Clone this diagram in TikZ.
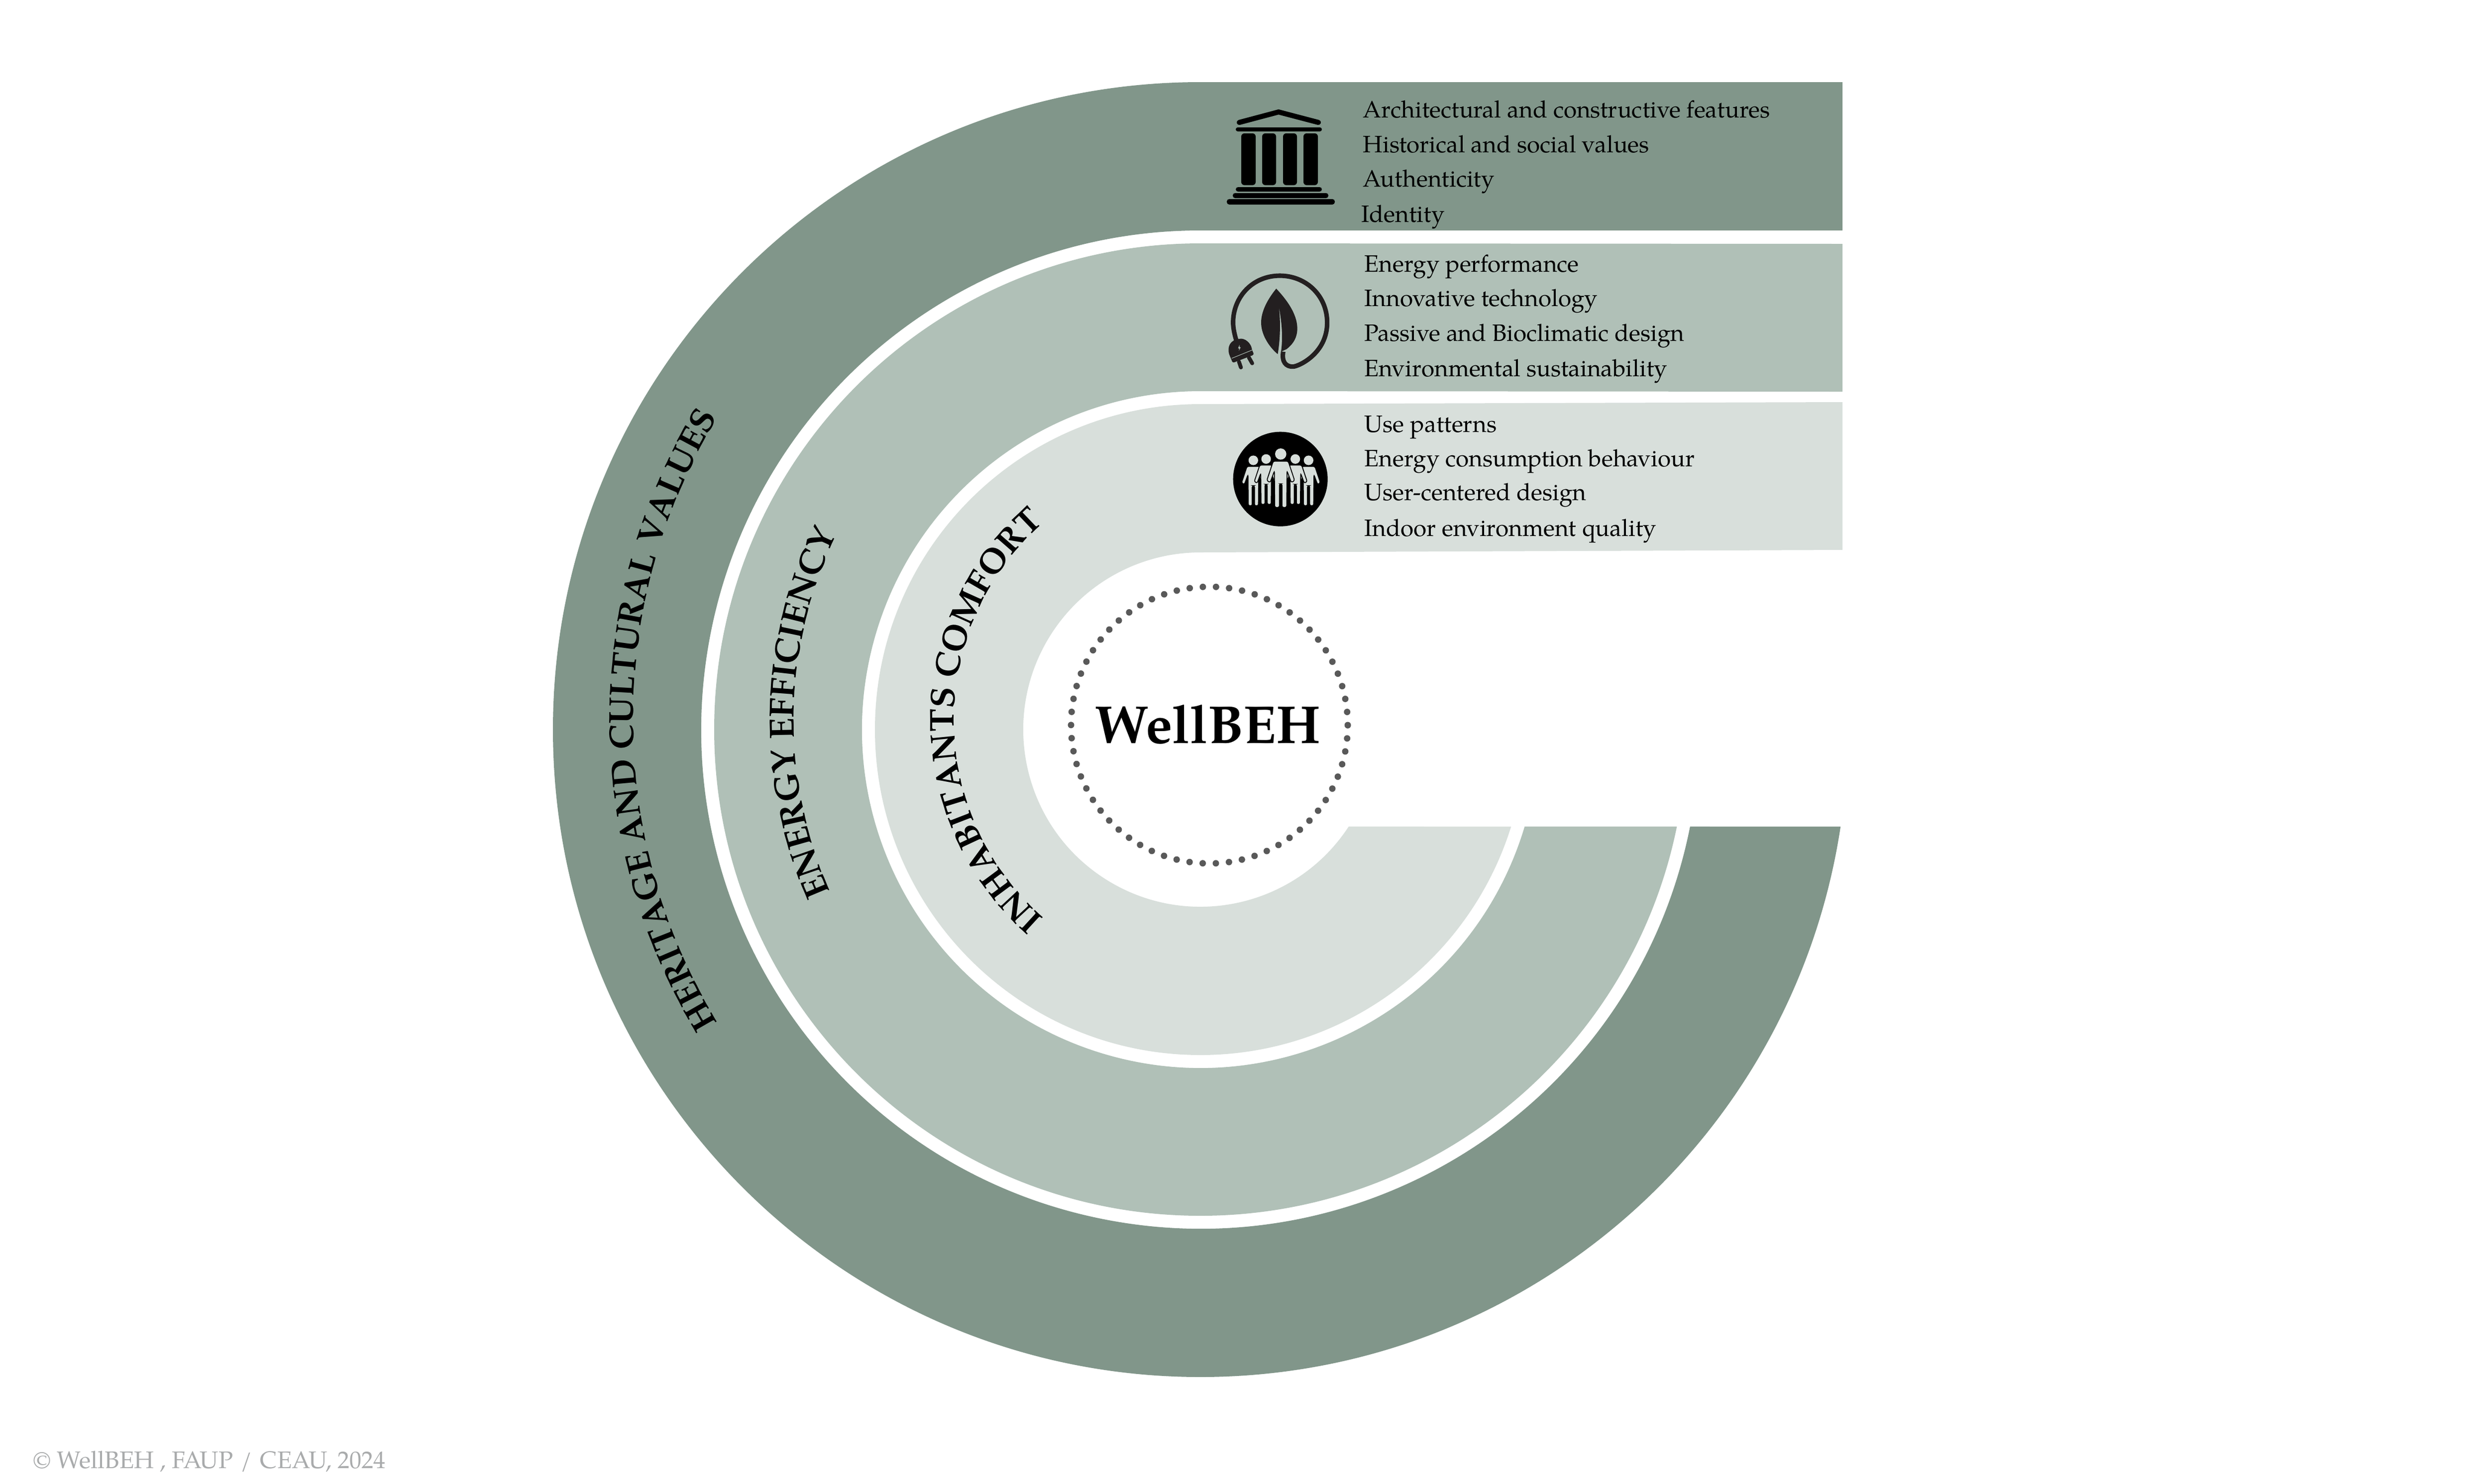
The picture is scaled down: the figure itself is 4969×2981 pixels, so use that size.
\documentclass[tikz,border=0pt]{standalone}
\usepackage{fontspec}
\setmainfont{TeX Gyre Pagella}
\usetikzlibrary{decorations.text}
\definecolor{heritagegreen}{HTML}{81968A}
\definecolor{energygreen}{HTML}{B0C0B7}
\definecolor{comfortgreen}{HTML}{D8DFDB}
\definecolor{dotgrey}{HTML}{595959}
\definecolor{creditgrey}{HTML}{A9ABAC}
\definecolor{icondark}{HTML}{231F20}

\newcommand{\personicon}[3]{%
  \begin{scope}[shift={(#1,#2)},scale=#3]
    \fill[comfortgreen] (0,0) circle[radius=34];
    \filldraw[fill=comfortgreen,draw=black,line width=0.5pt,rounded corners=0.9pt]
      (-45,43) -- (45,43) -- (84,160) -- (64,172) -- (38,102) -- (36,322)
      -- (8,322) -- (8,180) -- (-8,180) -- (-8,322) -- (-36,322) -- (-38,102)
      -- (-64,172) -- (-84,160) -- cycle;
  \end{scope}}

\begin{document}
\begin{tikzpicture}[x=0.1mm,y=-0.1mm,
      itemtext/.style={anchor=base west,inner sep=0pt,font=\fontsize{13.55}{16}\selectfont},
      bandlabel/.style={decoration={text along path,text align=center,text={#1}}}]
    \useasboundingbox (0,0) rectangle (4969,2981);

    % rings
    \begin{scope}[shift={(2412,1466)},y=0.1mm]
      \fill[heritagegreen] (1290,1301) -- (0,1301)
        arc[start angle=90,end angle=351.38,radius=1301] -- (348.79:1003)
        arc[start angle=348.79,end angle=90,radius=1003] -- (1290,1003) -- cycle;
      \fill[energygreen] (1290,976) -- (0,977)
        arc[start angle=90,end angle=348.49,radius=977] -- (343.34:680)
        arc[start angle=343.34,end angle=90,radius=680] -- (1290,679) -- cycle;
      \fill[comfortgreen] (1290,658) -- (0,654)
        arc[start angle=90,end angle=342.65,radius=654] -- (326.8:356)
        arc[start angle=326.8,end angle=90,radius=356] -- (1290,361) -- cycle;
    \end{scope}

    % ring titles
    \begin{scope}[shift={(2446,1447)},y=0.1mm]
      \path[decorate,bandlabel={|\fontsize{19.7}{22}\selectfont\bfseries|HERITAGE AND CULTURAL VALUES}]
        (215:1174) arc[start angle=215,end angle=145,radius=1174];
      \path[decorate,bandlabel={|\fontsize{20}{22}\selectfont\bfseries|ENERGY EFFICIENCY}]
        (214:851) arc[start angle=214,end angle=144,radius=851];
      \path[decorate,bandlabel={|\fontsize{19.7}{22}\selectfont\bfseries|INHABITANTS COMFORT}]
        (240:529) arc[start angle=240,end angle=120,radius=529];
    \end{scope}

    % centre
    \node (centredots) at (2430,1457) [circle,minimum size=556*0.1mm,inner sep=0pt,draw=dotgrey,
      line width=3.7pt,line cap=round,dash pattern=on 0pt off 7.53pt] {};
    \node (wellbeh) at (2427,1493) [anchor=base,inner sep=0pt,font=\fontsize{30.5}{32}\selectfont\bfseries] {WellBEH};

    % lists
    \node[itemtext] (arch) at (2738,236) {Architectural and constructive features};
    \node[itemtext] (hist) at (2738,306) {Historical and social values};
    \node[itemtext] (auth) at (2738,375) {Authenticity};
    \node[itemtext] (iden) at (2735,446) {Identity};
    \node[itemtext] (perf) at (2741,546) {Energy performance};
    \node[itemtext] (tech) at (2741,615) {Innovative technology};
    \node[itemtext] (bioc) at (2741,685) {Passive and Bioclimatic design};
    \node[itemtext] (sust) at (2741,756) {Environmental sustainability};
    \node[itemtext] (patt) at (2741,868) {Use patterns};
    \node[itemtext] (beha) at (2741,937) {Energy consumption behaviour};
    \node[itemtext] (user) at (2741,1005) {User-centered design};
    \node[itemtext] (qual) at (2741,1077) {Indoor environment quality};

    % temple
    \draw[black,line width=2.9pt,line cap=round,line join=miter] (2490,246) -- (2569,225) -- (2649,246);
    \fill[black,rounded corners=1.1pt] (2483,256) rectangle (2656,264);
    \fill[black,rounded corners=1.8pt] (2494,268) rectangle (2523,372);
    \fill[black,rounded corners=1.8pt] (2536,268) rectangle (2564,372);
    \fill[black,rounded corners=1.8pt] (2578,268) rectangle (2606,372);
    \fill[black,rounded corners=1.8pt] (2619,268) rectangle (2648,372);
    \fill[black,rounded corners=1.3pt] (2483,376) rectangle (2656,385);
    \fill[black,rounded corners=1.3pt] (2477,388) rectangle (2669,398);
    \fill[black,rounded corners=1.4pt] (2465,400) rectangle (2682,411);

    % leaf and plug
    \begin{scope}[shift={(2450,530)},scale=0.3333]
      \fill[icondark] (343,150) .. controls (290,215) and (250,290) .. (252,360)
        .. controls (255,440) and (310,510) .. (352,545)
        .. controls (368,450) and (370,340) .. (358,255)
        .. controls (375,340) and (385,440) .. (372,530)
        -- (405,515) .. controls (450,480) and (470,440) .. (470,390)
        .. controls (470,300) and (400,210) .. (343,150) -- cycle;
      \draw[icondark,line width=2.6pt] (385,530) .. controls (375,590) and (400,622) .. (445,620)
        .. controls (480,618) and (650,540) .. (650,355)
        .. controls (650,190) and (520,72) .. (365,72)
        .. controls (200,72) and (85,200) .. (83,350)
        .. controls (82,390) and (95,440) .. (105,470);
      \draw[icondark,line width=2.2pt,line cap=round] (118,590) -- (130,625);
      \draw[icondark,line width=2.2pt,line cap=round] (178,565) -- (198,600);
      \fill[icondark,rounded corners=1pt] (80,598) -- (70,570)
        .. controls (45,520) and (55,470) .. (110,455)
        .. controls (155,445) and (190,480) .. (197,520) -- (210,548) -- cycle;
      \draw[energygreen,line width=0.3pt] (75,570) -- (198,520);
      \fill[energygreen] (122,488) -- (113,510) -- (120,510) -- (118,525) -- (129,503) -- (122,503) -- cycle;
    \end{scope}

    % people
    \begin{scope}[shift={(2470,850)},scale=0.3333]
      \fill[black] (308,338) circle[radius=285];
      \personicon{145}{225}{0.85}
      \personicon{478}{225}{0.85}
      \personicon{222}{217}{0.85}
      \personicon{398}{217}{0.85}
      \personicon{310}{187}{1}
    \end{scope}

    \node (credit) at (66,2950) [anchor=base west,inner sep=0pt,text=creditgrey,font=\fontsize{13.7}{16}\selectfont]
      {© WellBEH , FAUP\ \kern1pt/\kern1pt\ CEAU, 2024};
\end{tikzpicture}
\end{document}
